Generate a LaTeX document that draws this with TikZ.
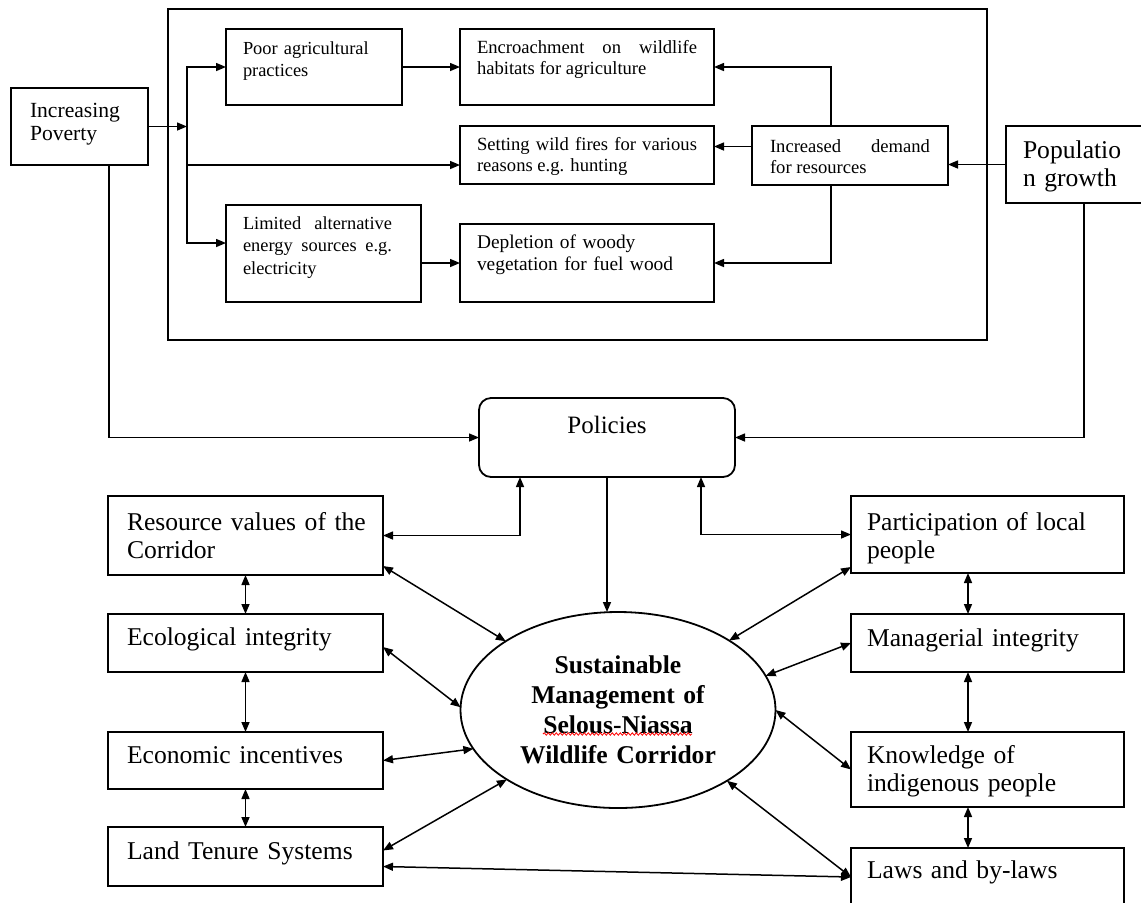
\documentclass[tikz,border=0pt]{standalone}
\usepackage{fontspec}
\setmainfont{Liberation Serif}
\usetikzlibrary{arrows.meta,shapes.geometric,decorations.pathmorphing}
\tikzset{>={Triangle[length=5pt,width=4pt]}}
\tikzset{
  box/.style={draw, line width=0.9pt, anchor=north west, outer sep=0pt, inner ysep=0pt, align=left},
  topfont/.style={font=\fontsize{9.3}{10.5}\selectfont},
  midfont/.style={font=\fontsize{9.2}{11.4}\selectfont},
  bigfont/.style={font=\fontsize{12.8}{14}\selectfont},
  lbox/.style={box, bigfont, inner xsep=4pt, text width=129.5pt, execute at begin node={\leftskip=5.5pt}},
  rbox/.style={box, bigfont, inner xsep=4pt, text width=128.5pt, execute at begin node={\leftskip=4pt}},
}

\begin{document}
\begin{tikzpicture}[x=0.5pt,y=-0.5pt,line width=0.75pt]
\useasboundingbox (0,0) rectangle (1141,902);
\draw[line width=0.9pt] (168,9) rectangle (987,340);

\node[box, inner xsep=9.5pt, text width=49.5pt, text height=14.5pt, text depth=24pt, font=\fontsize{10.8}{11.6}\selectfont] (pov) at (11,88) {Increasing\\Poverty};
\node[box, midfont, inner xsep=8.5pt, text width=71pt, text height=12.5pt, text depth=25.5pt] (poor) at (226,29) {Poor agricultural\\practices};
\node[box, midfont, align=justify, inner xsep=8.5pt, text width=80.5pt, text height=12pt, text depth=36.5pt, execute at begin node={\rightskip=6pt}] (lim) at (226,205) {Limited alternative\linebreak energy sources e.g.\linebreak electricity};
\node[box, topfont, align=justify, inner xsep=8.5pt, text width=110pt, text height=12pt, text depth=26pt] (enc) at (460,29) {Encroachment on wildlife\linebreak habitats for agriculture};
\node[box, topfont, align=justify, inner xsep=8.5pt, text width=110pt, text height=12pt, text depth=17pt] (fire) at (460,126) {Setting wild fires for various\linebreak reasons e.g. hunting};
\node[box, font=\fontsize{9.7}{11}\selectfont, inner xsep=8.5pt, text width=110pt, text height=12pt, text depth=27pt] (dep) at (460,224) {Depletion of woody\\vegetation for fuel wood};
\node[box, topfont, align=justify, inner xsep=9pt, text width=80pt, text height=13pt, text depth=16.5pt] (dem) at (752,126) {Increased demand\linebreak for resources};
\node[box, bigfont, inner xsep=8.5pt, text width=61pt, text height=16pt, text depth=22.5pt] (pop) at (1006,126) {Populatio\\n growth};

\node[box, rounded corners=6pt, align=center, inner xsep=0pt, text width=128pt, text height=17.5pt, text depth=22pt, font=\fontsize{12.5}{14}\selectfont] (pol) at (479,398) {Policies};

\node[lbox, text height=17pt, text depth=22.5pt] (res) at (108,496) {Resource values of the\\Corridor};
\node[lbox, text height=15.5pt, text depth=13.5pt] (eco) at (108,614) {Ecological integrity};
\node[lbox, text height=15.5pt, text depth=13pt] (econ) at (108,732) {Economic incentives};
\node[lbox, text height=16pt, text depth=13.5pt] (land) at (108,827) {Land Tenure Systems};
\node[rbox, text height=17pt, text depth=21.5pt] (par) at (851,496) {Participation of local\\people};
\node[rbox, text height=16pt, text depth=13pt] (man) at (851,614) {Managerial integrity};
\node[rbox, text height=15.5pt, text depth=22pt] (kno) at (851,732) {Knowledge of\\indigenous people};
\node[rbox, text height=15pt, text depth=14pt] (law) at (851,848) {Laws and by-laws};

\node[draw, ellipse, line width=0.9pt, minimum width=157.5pt, minimum height=98pt, inner sep=0pt, outer sep=0pt, text width=110pt, align=center, font=\bfseries\fontsize{12.8}{15}\selectfont] (sus) at (618,710) {Sustainable\\Management of\\Selous-Niassa\\Wildlife Corridor};
\draw[red, line width=0.4pt, decorate, decoration={snake, segment length=2pt, amplitude=0.6pt}] ([xshift=-37.5pt,yshift=-12pt]sus.center) -- ([xshift=37pt,yshift=-12pt]sus.center);

\coordinate (split) at (187,126.5);
\draw[->] (pov.east) -- (split);
\draw[->] (split) |- (poor.west);
\draw[->] (split) |- ([yshift=-5pt]fire.west);
\draw[->] (split) |- ([yshift=5.25pt]lim.west);
\draw[->] (poor.east) -- (enc.west);
\draw[->] (lim.east |- dep.west) -- (dep.west);
\draw[->] ([xshift=-9.5pt]dem.north) |- (enc.east);
\draw[->] ([yshift=4.5pt]dem.west) -- ([yshift=4.5pt]dem.west -| fire.east);
\draw[->] ([xshift=-9.5pt]dem.south) |- (dep.east);
\draw[->] (pop.west) -- (pop.west -| dem.east);
\draw[->] (pop.south) |- (pol.east);
\draw[->] ([xshift=14.75pt]pov.south) |- (pol.west);

\draw[<->] (res.east) -| ([xshift=-43.5pt]pol.south);
\draw[<->] (par.west) -| ([xshift=47pt]pol.south);
\draw[->] (pol.south) -- (pol.south |- sus.north);

\draw[<->] (res) -- (eco);
\draw[<->] (eco) -- (econ);
\draw[<->] (econ) -- (land);
\draw[<->] ([xshift=-9.75pt]par.south) -- ([xshift=-9.75pt]man.north);
\draw[<->] ([xshift=-9.75pt]man.south) -- ([xshift=-9.75pt]kno.north);
\draw[<->] ([xshift=-9.75pt]kno.south) -- ([xshift=-9.75pt]law.north);

\draw[<->] ([yshift=4.5pt]res.south east) -- (sus);
\draw[<->] ([yshift=-2pt]eco.east) -- (sus.179);
\draw[<->] (econ.east) -- (sus.195);
\draw[<->] ([yshift=3pt]land.east) -- (sus.212);
\draw[<->] ([yshift=-5pt]land.east) -- (law.west);
\draw[<->] (law.west) -- (sus.327);
\draw[<->] (kno.west) -- (sus.east);
\draw[<->] (man.west) -- (sus.13);
\draw[<->] ([yshift=3pt]par.south west) -- (sus.32);
\end{tikzpicture}
\end{document}
